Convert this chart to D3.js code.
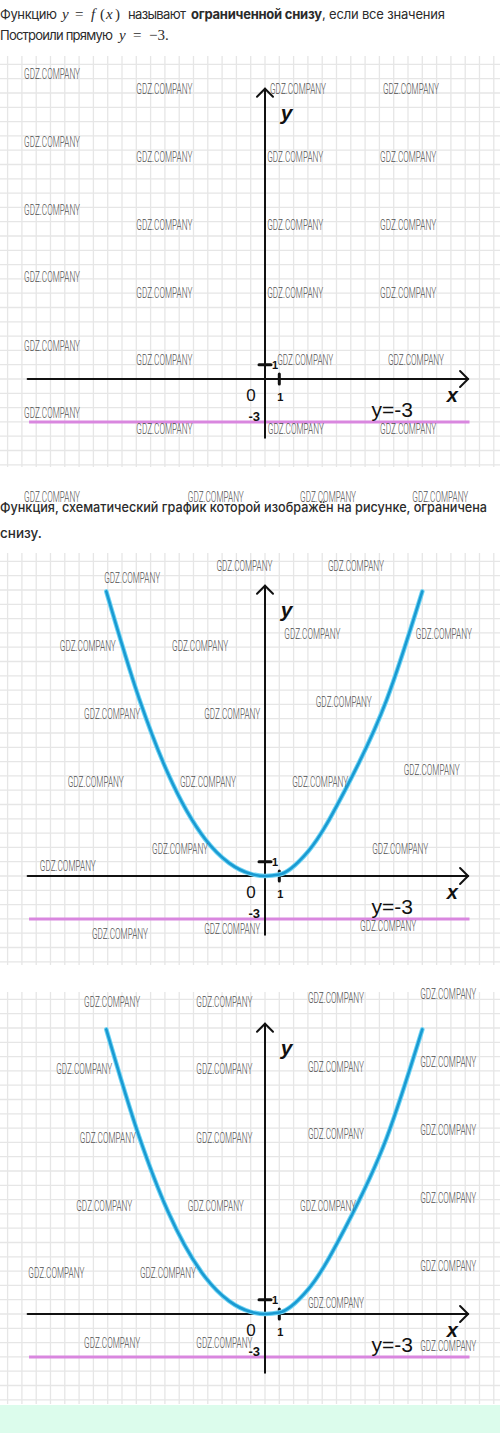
<!DOCTYPE html>
<html>
<head>
<meta charset="utf-8">
<script src="https://cdn.jsdelivr.net/npm/d3@7"></script>
<style>
    body { margin: 0; background: #fff; }
    svg { display: block; }
    .txt { font-family: Inter, "Noto Sans", sans-serif; fill: #2b2b2b; }
    .math { font-family: "Liberation Serif", serif; fill: #2b2b2b; }
    .lbl { font-family: "Liberation Sans", Arial, sans-serif; fill: #111; }
    .wm { font-family: Roboto, "Liberation Sans", sans-serif; font-weight: 300; fill: #505050; }
</style>
</head>
<body>
<div id="chart"></div>
<script>
"use strict";

// ---- data (axis units) ----
const xTicks = [1];
const yTicks = [1];
const lowerBound = -3;
const boundLabel = "y=-3";

// schematic parabola (same drawing in the 2nd and 3rd picture)
const curveX = [-11.1, -8.8, -6.8, -4.2, -2.5, -1.0, 0, 1.0, 3.0, 5.7, 8.5, 11.0];
const curveY = [19.9, 12.4, 7.2, 2.6, 0.9, 0.15, 0, 0.1, 1.7, 6.2, 12.3, 19.9];

// watermark text anchors [x, y] in axis units of each picture
const wmText = "GDZ.COMPANY";
const wmPanel1 = [
    [-16.85, 21.3], [-9.0, 20.3], [0.35, 20.3], [8.25, 20.3],
    [-16.85, 16.6], [-9.0, 15.5], [0.15, 15.5], [8.05, 15.5],
    [-16.85, 11.8], [-9.0, 10.8], [0.15, 10.8], [8.05, 10.8],
    [-16.85, 7.1], [-9.0, 6.0], [0.15, 6.0], [8.05, 6.0],
    [-16.85, 2.3], [-9.0, 1.3], [0.85, 1.3], [8.6, 1.3],
    [-16.85, -2.4], [-9.0, -3.5], [0.2, -3.5], [8.05, -3.5],
    [-16.85, -8.25], [-5.4, -8.25], [2.45, -8.25], [10.3, -8.25]
];
const wmPanel2 = [
    [-11.25, 20.85], [-3.4, 21.7], [4.4, 21.7],
    [-14.35, 16.1], [-6.5, 16.1], [1.35, 16.9], [10.55, 16.9],
    [-12.65, 11.3], [-4.25, 11.3], [3.55, 12.2],
    [-13.8, 6.6], [-5.95, 6.6], [1.9, 6.6], [9.7, 7.4],
    [-7.9, 1.9], [7.5, 1.9], [-15.75, 0.7],
    [-12.1, -4.05], [-4.25, -3.7], [6.65, -3.5]
];
const wmPanel3 = [
    [-12.65, 21.8], [-4.8, 21.8], [3.0, 22.1], [10.85, 22.4],
    [-14.6, 17.1], [-4.8, 17.1], [3.0, 17.3], [10.85, 17.6],
    [-12.95, 12.3], [-4.8, 12.3], [3.0, 12.6], [10.85, 12.9],
    [-13.2, 7.55], [-5.4, 7.55], [2.45, 7.55], [10.85, 8.1],
    [-16.55, 2.85], [-8.75, 2.85], [10.85, 3.35], [3.0, 0.75],
    [-12.65, -2.0], [-4.8, -2.0], [10.85, -2.25]
];

// ---- layout ----
const W = 500, H = 1433;
const UNIT = 14.3, OX = 265;

const svg = d3.select("#chart").append("svg")
    .attr("width", W)
    .attr("height", H);

svg.append("rect").attr("width", W).attr("height", H).attr("fill", "#fff");

// green strip at the bottom
svg.append("rect")
    .attr("x", 0).attr("y", 1405)
    .attr("width", W).attr("height", H - 1405)
    .attr("fill", "#dcfcec");

const drawPanel = (oy, gridTop, gridBottom, marks, withCurve) => {
    const x = d3.scaleLinear().domain([0, 1]).range([OX, OX + UNIT]);
    const y = d3.scaleLinear().domain([0, 1]).range([oy, oy - UNIT]);
    const g = svg.append("g");

    // grid paper
    const gx = d3.range(Math.ceil(x.invert(0)), Math.floor(x.invert(W)) + 1);
    const gy = d3.range(Math.ceil(y.invert(gridBottom)), Math.floor(y.invert(gridTop)) + 1);
    g.append("g").selectAll("line").data(gx).join("line")
        .attr("x1", d => x(d)).attr("x2", d => x(d))
        .attr("y1", gridTop).attr("y2", gridBottom)
        .attr("stroke", "#e6e6e6").attr("stroke-width", 1.3);
    g.append("g").selectAll("line").data(gy).join("line")
        .attr("x1", 0).attr("x2", W)
        .attr("y1", d => y(d)).attr("y2", d => y(d))
        .attr("stroke", "#e6e6e6").attr("stroke-width", 1.3);

    // bound line y = -3
    g.append("line")
        .attr("x1", x(-16.5)).attr("x2", x(14.3))
        .attr("y1", y(lowerBound)).attr("y2", y(lowerBound))
        .attr("stroke", "#d987df").attr("stroke-width", 3);

    // axes
    const axis = g.append("g").attr("stroke", "#111").attr("fill", "none")
        .attr("stroke-width", 2).attr("stroke-linecap", "round");
    axis.append("line")
        .attr("x1", x(-16.6)).attr("x2", x(14.2))
        .attr("y1", y(0)).attr("y2", y(0));
    axis.append("path")
        .attr("d", `M${x(14.2) - 8},${y(0) - 8}L${x(14.2)},${y(0)}L${x(14.2) - 8},${y(0) + 8}`);
    axis.append("line")
        .attr("x1", x(0)).attr("x2", x(0))
        .attr("y1", y(-4.1)).attr("y2", y(20.3));
    axis.append("path")
        .attr("d", `M${x(0) - 8},${y(20.3) + 8}L${x(0)},${y(20.3)}L${x(0) + 8},${y(20.3) + 8}`);

    // unit ticks
    axis.selectAll(".xt").data(xTicks).join("line")
        .attr("x1", d => x(d)).attr("x2", d => x(d))
        .attr("y1", y(0) - 5).attr("y2", y(0) + 5)
        .attr("stroke-width", 3);
    axis.selectAll(".yt").data(yTicks).join("line")
        .attr("x1", x(0) - 6).attr("x2", x(0) + 6)
        .attr("y1", d => y(d)).attr("y2", d => y(d))
        .attr("stroke-width", 3);

    // curve
    if (withCurve) {
        const pts = curveX.map((v, i) => [v, curveY[i]]);
        const line = d3.line().x(d => x(d[0])).y(d => y(d[1])).curve(d3.curveMonotoneX);
        g.append("path").datum(pts).attr("d", line)
            .attr("fill", "none").attr("stroke", "#6fd4f4").attr("stroke-width", 4.6)
            .attr("stroke-linecap", "round");
        g.append("path").datum(pts).attr("d", line)
            .attr("fill", "none").attr("stroke", "#1a9ad2").attr("stroke-width", 2.6)
            .attr("stroke-linecap", "round");
    }

    // labels
    g.append("text").attr("class", "lbl")
        .attr("x", x(0) - 14).attr("y", y(0) + 22)
        .attr("font-size", 17).attr("text-anchor", "middle").attr("font-weight", 500)
        .text("0");
    g.selectAll(".xl").data(xTicks).join("text").attr("class", "lbl")
        .attr("x", d => x(d) + 1).attr("y", y(0) + 22)
        .attr("font-size", 11).attr("font-weight", 700).attr("text-anchor", "middle")
        .text(d => d);
    g.selectAll(".yl").data(yTicks).join("text").attr("class", "lbl")
        .attr("x", x(0) + 7).attr("y", d => y(d) + 4)
        .attr("font-size", 11).attr("font-weight", 700)
        .text(d => d);
    g.append("text").attr("class", "lbl")
        .attr("x", x(0) - 5).attr("y", y(lowerBound) - 1)
        .attr("font-size", 13).attr("font-weight", 700).attr("text-anchor", "end")
        .text(lowerBound);
    g.append("text").attr("class", "lbl")
        .attr("x", x(13.1)).attr("y", y(-1.6))
        .attr("font-size", 20).attr("font-style", "italic").attr("font-weight", 700)
        .attr("text-anchor", "middle")
        .text("x");
    g.append("text").attr("class", "lbl")
        .attr("x", x(1.1)).attr("y", y(18.1))
        .attr("font-size", 21).attr("font-style", "italic").attr("font-weight", 700)
        .text("y");
    g.append("text").attr("class", "lbl")
        .attr("x", x(7.45)).attr("y", y(-2.65))
        .attr("font-size", 21).attr("fill", "#111")
        .text(boundLabel);

    return { g, x, y, marks };
};

const panels = [
    drawPanel(379, 56, 467, wmPanel1, false),
    drawPanel(876, 553, 965, wmPanel2, true),
    drawPanel(1314, 992, 1404, wmPanel3, true)
];

// ---- text of the page ----
const txt = svg.append("g");
const seg = (xx, yy, s, cls, opts = {}) => {
    const t = txt.append("text").attr("class", cls)
        .attr("x", xx).attr("y", yy).text(s);
    Object.entries(opts).forEach(([k, v]) => t.attr(k, v));
    return t;
};
seg(0, 19, "Функцию", "txt", { "font-size": 13, "textLength": 57 });
seg(62, 19, "y", "math", { "font-size": 15, "font-style": "italic" });
seg(75, 19, "=", "math", { "font-size": 15 });
seg(91, 19, "f", "math", { "font-size": 15, "font-style": "italic" });
seg(100, 19, "(", "math", { "font-size": 15 });
seg(106, 19, "x", "math", { "font-size": 15, "font-style": "italic" });
seg(115, 19, ")", "math", { "font-size": 15 });
seg(128, 19, "называют", "txt", { "font-size": 13, "textLength": 58 });
seg(191, 19, "ограниченной снизу", "txt", { "font-size": 13, "font-weight": 700, "textLength": 131 });
seg(322, 19, ", если все значения", "txt", { "font-size": 13, "textLength": 123 });

seg(0, 40, "Построили прямую", "txt", { "font-size": 13, "textLength": 113 });
seg(119, 40, "y", "math", { "font-size": 15, "font-style": "italic" });
seg(133, 40, "=", "math", { "font-size": 15 });
seg(149, 40, "−3.", "math", { "font-size": 15 });

seg(0, 512, "Функция, схематический график которой изображён на рисунке, ограничена", "txt",
    { "font-size": 13.5, "font-weight": 500, "textLength": 487, "lengthAdjust": "spacingAndGlyphs" });
seg(0, 538, "снизу.", "txt", { "font-size": 13.5, "font-weight": 500 });

// ---- watermarks on top ----
panels.forEach(p => {
    p.g.append("g").selectAll("text").data(p.marks).join("text")
        .attr("class", "wm")
        .attr("x", d => p.x(d[0]))
        .attr("y", d => p.y(d[1]) + 5)
        .attr("font-size", 14)
        .attr("textLength", 56)
        .attr("lengthAdjust", "spacingAndGlyphs")
        .text(wmText);
});
</script>
</body>
</html>
